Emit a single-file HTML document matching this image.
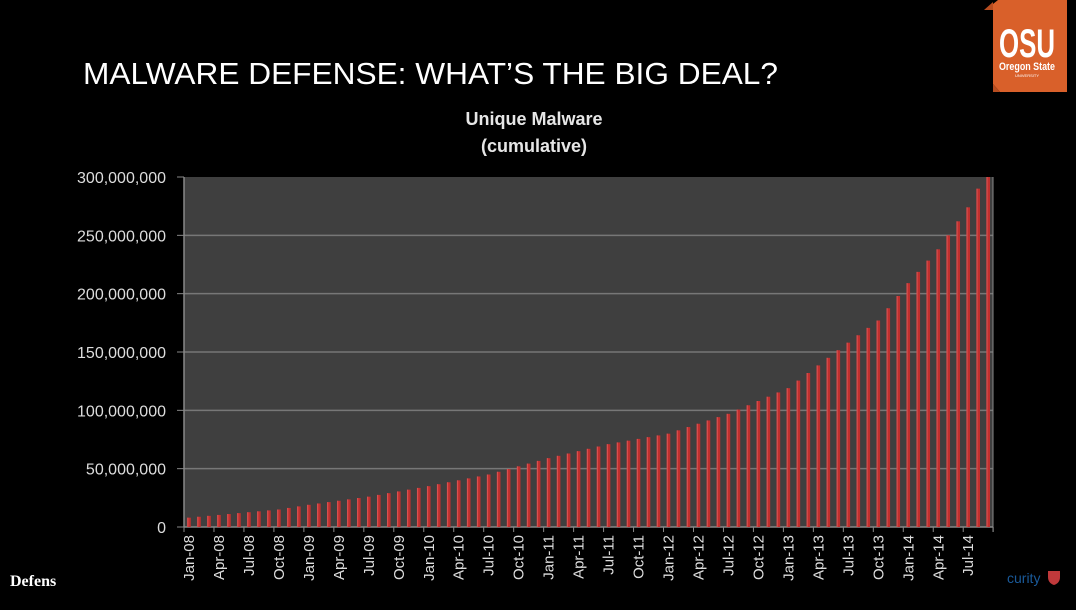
<!DOCTYPE html>
<html><head><meta charset="utf-8"><style>
body{margin:0;width:1076px;height:605px;background:#000;overflow:hidden;font-family:"Liberation Sans",sans-serif;}
</style></head><body>
<svg id="s" width="1076" height="605" xmlns="http://www.w3.org/2000/svg">
<rect width="1076" height="605" fill="#000"/>
<text x="83" y="84" fill="#fff" font-size="31" font-family="Liberation Sans" textLength="695" lengthAdjust="spacingAndGlyphs">MALWARE DEFENSE: WHAT’S THE BIG DEAL?</text>
<polygon points="993,4 998,0 1067,0 1067,92 1000,92 993,84" fill="#d9602a"/>
<polygon points="984,10 993,2 993,10" fill="#b84d20"/>
<polygon points="993,84 1000,92 993,92" fill="#b84d20"/>
<text x="1027" y="57" fill="#fff" font-size="40" font-weight="bold" text-anchor="middle" textLength="56" lengthAdjust="spacingAndGlyphs">OSU</text>
<text x="1027" y="70" fill="#fff" font-size="11" font-weight="bold" text-anchor="middle" textLength="56" lengthAdjust="spacingAndGlyphs">Oregon State</text>
<text x="1027" y="77" fill="#fff" font-size="4" text-anchor="middle">UNIVERSITY</text>
<text x="534" y="125" fill="#e6e6e6" font-size="18" font-weight="bold" text-anchor="middle">Unique Malware</text>
<text x="534" y="152" fill="#e6e6e6" font-size="18" font-weight="bold" text-anchor="middle">(cumulative)</text>
<rect x="184" y="177" width="809" height="350" fill="#3f3f3f"/>
<g id="g"></g>
<text x="10" y="586" fill="#fff" font-size="16" font-weight="bold" font-family="Liberation Serif">Defens</text>
<text x="1007" y="583" fill="#1a5a9a" font-size="14">curity</text>
<path d="M1048,571 h12 v6 q0,6 -6,8 q-6,-2 -6,-8z" fill="#c0393b"/>
</svg>
<script>
var g=document.getElementById('g'),h='';
var k=[[0,8],[9,15],[12,19],[18,26],[24,35],[30,45],[36,59],[42,71],[48,80],[54,97],[60,119],[66,158],[69,177],[71,198],[72,209],[75,238],[78,274],[79,290],[80,300]];
function v(i){for(var j=0;j<k.length-1;j++){if(i>=k[j][0]&&i<=k[j+1][0]){var t=(i-k[j][0])/(k[j+1][0]-k[j][0]);return k[j][1]+t*(k[j+1][1]-k[j][1]);}}return 300;}
var s=350/300;
for(var m=1;m<=5;m++){var y=527-m*50*s;h+='<line x1="184" x2="993" y1="'+y+'" y2="'+y+'" stroke="#777" stroke-width="1.5"/>';}
h+='<line x1="184" x2="993" y1="527" y2="527" stroke="#888" stroke-width="1.5"/><line x1="184" x2="184" y1="177" y2="527" stroke="#888" stroke-width="1.5"/><line x1="993" x2="993" y1="177" y2="532" stroke="#888" stroke-width="1"/>';
var labs=['0','50,000,000','100,000,000','150,000,000','200,000,000','250,000,000','300,000,000'];
for(var m=0;m<=6;m++){var y=527-m*50*s;h+='<line x1="177" x2="184" y1="'+y+'" y2="'+y+'" stroke="#888"/><text x="166" y="'+(y+6)+'" fill="#ddd" font-size="16" text-anchor="end">'+labs[m]+'</text>';}
var mo=['Jan','Apr','Jul','Oct'];
for(var i=0;i<81;i++){var x=189+i*9.99,val=v(i),y=527-val*s;
h+='<rect x="'+(x-1.8)+'" y="'+y+'" width="3.6" height="'+(527-y)+'" fill="#c0302e"/><rect x="'+(x-1.8)+'" y="'+y+'" width="1.2" height="'+(527-y)+'" fill="#d85050"/>';}
for(var q=0;q<=27;q++){var tx=184+q*29.97;h+='<line x1="'+tx+'" x2="'+tx+'" y1="527" y2="532" stroke="#888"/>';
if(q<27){var lx=189+q*29.97,lab=mo[q%4]+'-'+('0'+(8+Math.floor(q/4))).slice(-2);
h+='<text transform="translate('+(lx+5)+',535) rotate(-90)" fill="#ddd" font-size="15" text-anchor="end">'+lab+'</text>';}}
g.innerHTML=h;
</script>
</body></html>
